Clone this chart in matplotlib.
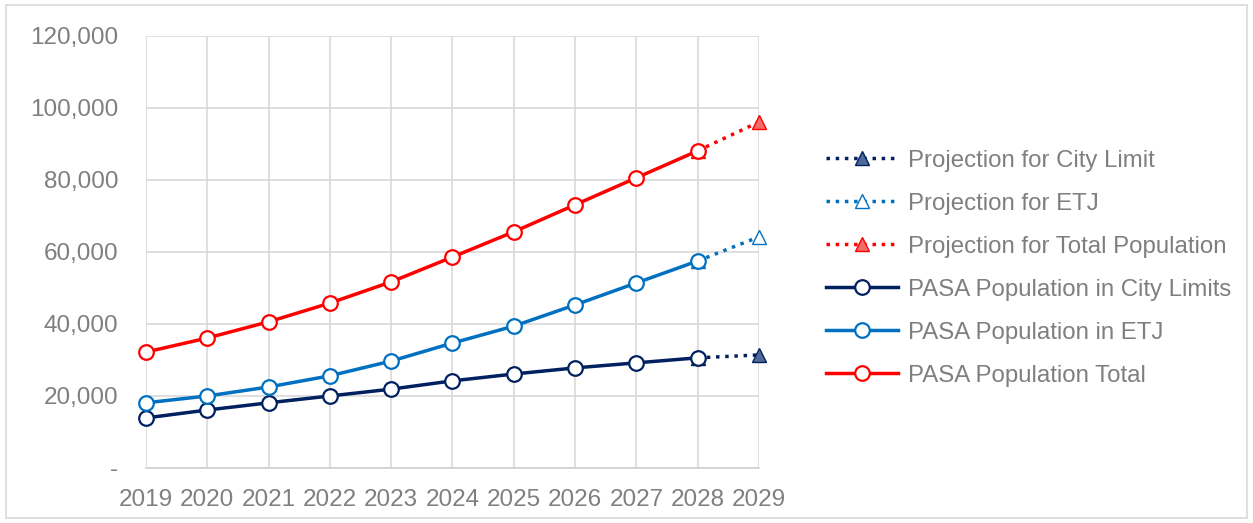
import matplotlib
matplotlib.use("Agg")
from matplotlib import pyplot as plt
from matplotlib.ticker import FuncFormatter
from matplotlib.patches import Rectangle

plt.rcParams['font.family'] = ['Liberation Sans', 'DejaVu Sans']

years = [2019, 2020, 2021, 2022, 2023, 2024, 2025, 2026, 2027, 2028]
city = [13900, 16100, 18100, 20000, 21900, 24200, 26100, 27800, 29200, 30600]
etj = [18100, 20000, 22500, 25600, 29700, 34700, 39400, 45300, 51400, 57500]
total = [32200, 36100, 40600, 45800, 51700, 58600, 65600, 73100, 80600, 88100]

proj_years = [2028, 2029]
proj_city = [30600, 31400]
proj_etj = [57500, 64200]
proj_total = [88100, 96100]

navy = '#002060'
blue = '#0070C0'
red = '#FF0000'
grey = '#7F7F7F'

fig = plt.figure(figsize=(12.53, 5.23), dpi=100)
fig.patches.append(Rectangle((0.005, 0.01), 0.99, 0.98, transform=fig.transFigure,
                             fill=False, edgecolor='#D9D9D9', linewidth=1.2))
ax = fig.add_axes([0.1165, 0.1052, 0.4892, 0.826])

ms = 10.5
lw = 2.5
ax.plot(proj_years, proj_city, linestyle=':', color=navy, linewidth=lw, marker='^',
        markersize=ms, markerfacecolor='#4F6A9A', markeredgecolor=navy, zorder=2,
        label='Projection for City Limit')
ax.plot(proj_years, proj_etj, linestyle=':', color=blue, linewidth=lw, marker='^',
        markersize=ms, markerfacecolor='white', markeredgecolor=blue, zorder=2,
        label='Projection for ETJ')
ax.plot(proj_years, proj_total, linestyle=':', color=red, linewidth=lw, marker='^',
        markersize=ms, markerfacecolor='#F26B6B', markeredgecolor=red, zorder=2,
        label='Projection for Total Population')
ax.plot(years, city, color=navy, linewidth=lw, marker='o', markersize=ms,
        markerfacecolor='white', markeredgecolor=navy, markeredgewidth=1.6, zorder=3,
        label='PASA Population in City Limits')
ax.plot(years, etj, color=blue, linewidth=lw, marker='o', markersize=ms,
        markerfacecolor='white', markeredgecolor=blue, markeredgewidth=1.6, zorder=3,
        label='PASA Population in ETJ')
ax.plot(years, total, color=red, linewidth=lw, marker='o', markersize=ms,
        markerfacecolor='white', markeredgecolor=red, markeredgewidth=1.6, zorder=3,
        label='PASA Population Total')

ax.set_xlim(2019, 2029)
ax.set_ylim(0, 120000)
ax.set_xticks(range(2019, 2030))
ax.set_yticks(range(0, 120001, 20000))
ax.yaxis.set_major_formatter(FuncFormatter(lambda v, p: '-' if v == 0 else '{:,.0f}'.format(v)))
ax.grid(True, color='#D9D9D9', linewidth=1.2, zorder=0)
ax.set_axisbelow(True)
for s in ['top', 'right', 'left']:
    ax.spines[s].set_visible(False)
ax.spines['bottom'].set_color('#D0D0D0')
ax.spines['bottom'].set_linewidth(1.2)
ax.tick_params(axis='both', length=0, labelsize=17.5, labelcolor=grey)
ax.tick_params(axis='y', pad=20)
ax.tick_params(axis='x', pad=15)

for ln in ax.lines:
    ln.set_clip_on(False)

leg = fig.legend(loc='center left', bbox_to_anchor=(0.6416, 0.487), frameon=False,
                 fontsize=17.3, labelcolor=grey, handlelength=3.0, handletextpad=0.45,
                 labelspacing=0.875)

fig.savefig('out.png', dpi=100)
